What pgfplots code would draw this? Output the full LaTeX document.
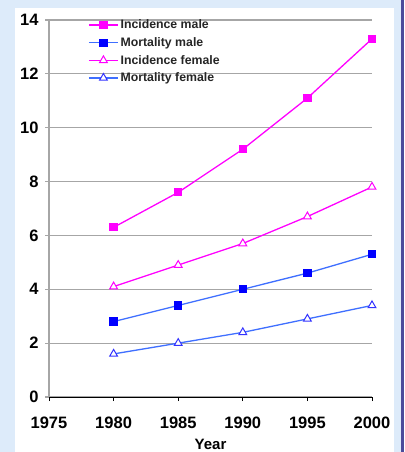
\documentclass[border=0pt]{standalone}
\usepackage{fontspec}
\setmainfont{Liberation Sans}
\usepackage{pgfplots}
\pgfplotsset{compat=1.18}
\definecolor{bgblue}{HTML}{DDEBFA}
\definecolor{edgeblue}{HTML}{4B4B9B}
\definecolor{mag}{HTML}{FF00FF}
\definecolor{linblue}{HTML}{3F6FFF}
\definecolor{mkblue}{HTML}{0000FF}
\definecolor{gridgray}{HTML}{A6A6A6}
\begin{document}
\begin{tikzpicture}
\useasboundingbox (-49pt,-55pt) rectangle (355pt,397pt);
\fill[bgblue] (-49pt,-55pt) rectangle (355pt,397pt);
\fill[white] (-34pt,-55pt) rectangle (345pt,389pt);
\fill[edgeblue] (352pt,-55pt) rectangle (355pt,397pt);
\begin{axis}[
  scale only axis, width=323pt, height=377pt, at={(0pt,0pt)}, anchor=south west,
  xmin=1975, xmax=2000, ymin=0, ymax=14,
  xtick={1975,1980,...,2000}, ytick={0,2,...,14},
  axis x line*=bottom, axis y line*=left,
  x axis line style={black, line width=0.9pt},
  y axis line style={gridgray, line width=1.2pt},
  ymajorgrids, grid style={gridgray, line width=1.2pt},
  tick align=outside, major tick length=4pt,
  x tick style={black, line width=0.9pt},
  y tick style={gridgray, line width=1.2pt},
  ticklabel style={font=\bfseries\fontsize{16.5}{19}\selectfont, text=black},
  xticklabel style={yshift=-12pt},
  yticklabel style={xshift=-3pt},
  /pgf/number format/assume math mode=true,
  /pgf/number format/1000 sep={},
  xlabel={Year}, xlabel style={font=\bfseries\fontsize{15}{17}\selectfont, yshift=-4pt},
  clip=false,
  legend style={at={(0.121,1.006)}, anchor=north west, draw=none, fill=none,
    font=\bfseries\fontsize{12.3}{14}\selectfont, text=black!85, inner sep=0pt, row sep=3.2pt},
  legend cell align=left,
  legend image code/.code={\draw[mark repeat=2,mark phase=2,#1] plot coordinates {(0pt,0pt)(14.5pt,0pt)(29pt,0pt)};},
]
\addplot[mag, line width=1.3pt, mark=square*, mark size=3.5pt, mark options={fill=mag, draw=mag}]
  coordinates {(1980,6.3)(1985,7.6)(1990,9.2)(1995,11.1)(2000,13.3)};
\addlegendentry{Incidence male}
\addplot[linblue, line width=1.3pt, mark=square*, mark size=3.5pt, mark options={fill=mkblue, draw=mkblue}]
  coordinates {(1980,2.8)(1985,3.4)(1990,4.0)(1995,4.6)(2000,5.3)};
\addlegendentry{Mortality male}
\addplot[mag, line width=1.3pt, mark=triangle*, mark size=4.5pt, mark options={fill=white, draw=mag, line width=1pt}]
  coordinates {(1980,4.1)(1985,4.9)(1990,5.7)(1995,6.7)(2000,7.8)};
\addlegendentry{Incidence female}
\addplot[linblue, line width=1.3pt, mark=triangle*, mark size=4.5pt, mark options={fill=white, draw=mkblue!80!white, line width=1pt}]
  coordinates {(1980,1.6)(1985,2.0)(1990,2.4)(1995,2.9)(2000,3.4)};
\addlegendentry{Mortality female}
\end{axis}
\end{tikzpicture}
\end{document}
